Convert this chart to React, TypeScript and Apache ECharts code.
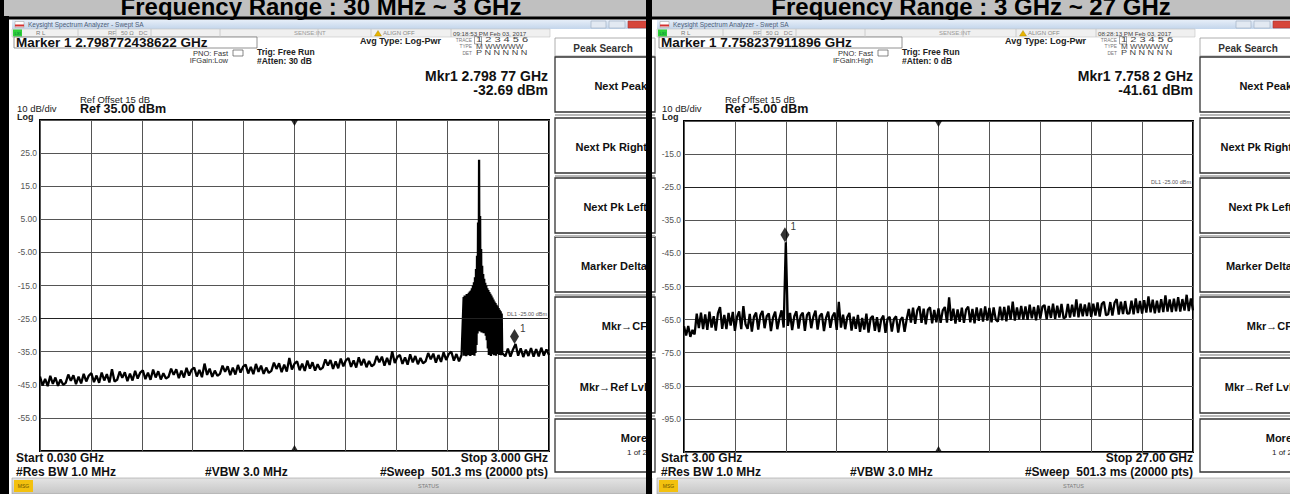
import React, { useEffect, useRef } from "react";
import * as echarts from "echarts";

const FONT = '"Liberation Sans", Arial, Helvetica, sans-serif';

// ---------------- data ----------------
const headerTitles = ["Frequency Range : 30 MHz ~ 3 GHz", "Frequency Range : 3 GHz ~ 27 GHz"];

// Left sweep 0.030 .. 3.000 GHz (dBm). Three sampled stretches.
const leftStartGHz = 0.03;
const leftStopGHz = 3.0;
const leftRefDbm = 35;
// 0.030 .. 2.490 GHz every 15 MHz
const leftLowStartGHz = 0.03;
const leftLowStepGHz = 0.015;
const leftLowLevels = [
  -42.5, -45.2, -43.2, -45.4, -42.3, -44.7, -42.8, -45.3, -43.4, -45.0,
  -44.4, -41.9, -43.8, -42.1, -44.8, -42.5, -44.6, -41.7, -44.0, -42.2,
  -41.5, -44.2, -42.2, -44.4, -41.3, -43.7, -41.8, -44.3, -40.3, -44.0,
  -43.5, -41.0, -42.9, -41.2, -43.9, -41.6, -43.7, -40.8, -43.1, -41.3,
  -40.6, -43.3, -41.3, -43.5, -40.4, -42.8, -40.9, -43.4, -41.5, -43.1,
  -42.6, -40.1, -42.0, -40.3, -43.0, -40.7, -42.8, -39.9, -42.2, -40.4,
  -39.8, -42.5, -40.5, -42.7, -38.6, -42.0, -40.1, -42.6, -40.7, -42.3,
  -41.7, -39.2, -41.1, -39.4, -42.1, -39.8, -41.9, -39.0, -41.3, -39.5,
  -38.9, -41.6, -39.6, -41.8, -38.7, -41.1, -39.2, -41.7, -39.8, -41.4,
  -40.8, -38.3, -40.2, -38.5, -41.2, -38.9, -41.0, -36.9, -40.4, -38.6,
  -37.9, -40.6, -38.6, -40.8, -37.7, -40.1, -38.2, -40.7, -38.8, -40.4,
  -39.8, -37.3, -39.2, -37.5, -40.2, -37.9, -40.0, -37.1, -39.4, -37.6,
  -36.9, -39.6, -37.6, -39.8, -36.7, -39.1, -37.2, -39.7, -37.8, -39.4,
  -38.8, -36.3, -38.2, -36.5, -39.2, -36.9, -39.0, -34.9, -38.4, -36.6,
  -36.0, -38.7, -36.7, -38.9, -35.8, -38.2, -36.3, -38.8, -36.9, -38.5,
  -37.9, -35.4, -37.3, -35.6, -38.3, -36.0, -38.1, -35.2, -37.5, -35.7,
  -35.0, -37.7, -35.7, -37.9, -36.0,
];
// 2.502 .. 2.727 GHz every 3 MHz (the occupied band, alternating peaks / troughs)
const leftBandStartGHz = 2.502;
const leftBandStepGHz = 0.003;
const leftBandLevels = [
  -18.5, -36.2, -18.0, -35.8, -18.2, -36.4, -17.6, -35.9, -17.8, -36.1,
  -17.2, -30.5, -16.8, -36.3, -16.5, -35.7, -15.8, -36.0, -15.0, -35.6,
  -14.0, -36.2, -12.5, -35.4, -10.0, -33.0, -6.0, -29.5, 4.0, -28.8,
  23.0, -28.5, 6.0, -28.9, -4.0, -29.2, -9.0, -28.7, -11.5, -29.4,
  -13.0, -29.0, -14.2, -30.2, -15.0, -31.5, -15.8, -34.0, -16.4, -36.0,
  -17.0, -35.6, -17.5, -36.3, -18.0, -30.0, -18.6, -35.8, -19.2, -36.1,
  -19.8, -35.5, -20.3, -36.2, -20.8, -35.7, -21.3, -31.0, -21.8, -36.0,
  -22.3, -35.6, -22.8, -36.1, -23.5, -35.4,
];
// 2.745 .. 3.000 GHz every 15 MHz
const leftHighStartGHz = 2.745;
const leftHighStepGHz = 0.015;
const leftHighLevels = [
  -36.4, -34.1, -36.5, -34.3, -32.7, -36.2, -34.0, -36.6, -34.4, -36.3,
  -33.9, -36.5, -34.2, -36.4, -33.8, -36.2, -34.3, -36.0,
];
const leftMarker = [2.798772438622, -32.69];
const leftYTickLabels = ["", "-55.0", "-45.0", "-35.0", "-25.0", "-15.0", "-5.00", "5.00", "15.0", "25.0", ""];

// Right sweep: 3.00 GHz .. 27.00 GHz, sampled every 100 MHz (dBm)
const rightStartGHz = 3.0;
const rightStopGHz = 27.0;
const rightStepGHz = 0.1;
const rightRefDbm = -5;
const rightLevels = [
  -67.0, -69.8, -66.9, -70.2, -68.1, -69.5, -63.2, -67.6, -62.9, -67.9,
  -63.4, -68.1, -62.6, -67.4, -64.0, -68.3, -63.1, -61.2, -67.8, -63.6,
  -67.9, -63.0, -66.8, -62.7, -68.4, -64.2, -62.5, -67.9, -60.9, -66.4,
  -67.8, -63.3, -68.6, -64.1, -62.9, -68.0, -63.7, -62.4, -67.6, -64.0,
  -63.1, -68.5, -64.3, -62.6, -67.9, -64.6, -62.2, -67.4, -41.61, -66.9,
  -63.0, -68.2, -64.0, -62.5, -67.7, -63.8, -62.9, -68.4, -63.6, -62.8,
  -67.6, -64.1, -62.3, -68.0, -63.9, -63.2, -68.5, -64.4, -62.6, -67.5,
  -64.0, -62.9, -68.1, -59.6, -67.4, -63.5, -67.9, -64.2, -63.0, -68.3,
  -64.1, -67.8, -63.6, -68.7, -64.5, -68.0, -63.2, -68.9, -64.6, -63.9,
  -68.4, -64.3, -68.8, -64.9, -63.8, -69.0, -64.7, -64.2, -68.6, -64.8,
  -64.0, -68.9, -65.1, -64.3, -68.7, -64.9, -61.8, -65.9, -61.4, -66.3,
  -62.2, -61.0, -66.0, -61.7, -66.4, -62.0, -61.3, -66.1, -62.1, -65.8,
  -61.6, -66.0, -62.2, -61.2, -65.9, -58.3, -65.4, -61.7, -66.2, -61.9,
  -65.7, -61.4, -66.0, -62.0, -61.1, -65.8, -61.8, -66.1, -61.3, -65.4,
  -61.6, -65.6, -61.0, -65.3, -61.5, -65.8, -61.3, -65.0, -65.6, -61.1,
  -65.2, -61.2, -65.5, -60.8, -65.0, -59.6, -65.3, -61.3, -64.9, -60.9,
  -65.0, -61.0, -65.1, -60.5, -64.6, -61.2, -65.2, -60.7, -64.7, -61.1,
  -60.6, -64.9, -60.9, -64.5, -60.2, -64.8, -60.8, -64.4, -60.3, -64.6,
  -64.2, -60.3, -64.4, -60.5, -64.1, -58.9, -64.3, -60.2, -64.0, -60.4,
  -63.9, -59.9, -64.2, -60.2, -63.8, -59.8, -64.1, -60.3, -59.6, -63.7,
  -63.4, -59.7, -63.8, -59.9, -58.8, -63.5, -59.6, -63.3, -59.4, -63.2,
  -63.1, -59.3, -63.4, -58.6, -63.0, -59.4, -63.2, -59.1, -62.9, -58.0,
  -62.8, -59.0, -63.1, -59.3, -62.9, -58.8, -62.7, -57.7, -62.6, -58.9,
  -62.7, -58.7, -62.5, -58.2, -62.6, -58.8, -62.3, -57.5, -62.4, -58.6,
  -62.2,
];
const rightMarker = [7.758237911896, -41.61];
const rightYTickLabels = ["", "-95.0", "-85.0", "-75.0", "-65.0", "-55.0", "-45.0", "-35.0", "-25.0", "-15.0", ""];

const displayLineDbm = -25;
const displayLineLabel = "DL1 -25.00 dBm";

const softkeyLabels = ["Next Peak", "Next Pk Right", "Next Pk Left", "Marker Delta", "Mkr\u2192CF", "Mkr\u2192Ref Lvl"];
const softkeyCenters = [86, 147, 207, 266, 326, 387];

const panelTexts = [
  {
    marker: "Marker 1 2.798772438622 GHz",
    time: "09:18:53 PM Feb 03, 2017",
    ifgain: "IFGain:Low",
    atten: "#Atten: 30 dB",
    mkr: "Mkr1 2.798 77 GHz",
    mkrVal: "-32.69 dBm",
    ref: "Ref 35.00 dBm",
    start: "Start 0.030 GHz",
    stop: "Stop 3.000 GHz",
  },
  {
    marker: "Marker 1 7.758237911896 GHz",
    time: "08:28:13 PM Feb 03, 2017",
    ifgain: "IFGain:High",
    atten: "#Atten: 0 dB",
    mkr: "Mkr1 7.758 2 GHz",
    mkrVal: "-41.61 dBm",
    ref: "Ref -5.00 dBm",
    start: "Start 3.00 GHz",
    stop: "Stop 27.00 GHz",
  },
];

// ---------------- helpers ----------------
type TxtOpt = { color?: string; bold?: boolean; align?: string; z?: number; sx?: number };
function txt(x: number, y: number, text: string, size: number, opt: TxtOpt = {}) {
  return {
    type: "text",
    x,
    y,
    scaleX: opt.sx ?? 1,
    z: opt.z ?? 10,
    silent: true,
    style: {
      text,
      fill: opt.color ?? "#111",
      fontSize: size,
      fontWeight: opt.bold ? "bold" : "normal",
      fontFamily: FONT,
      align: opt.align ?? "left",
      verticalAlign: "middle",
    },
  };
}
function box(x: number, y: number, w: number, h: number, fill: any, stroke?: string | null, lw?: number, z?: number) {
  return {
    type: "rect",
    z: z ?? 5,
    silent: true,
    shape: { x, y, width: w, height: h },
    style: { fill: fill ?? "none", stroke: stroke ?? "none", lineWidth: lw ?? 1 },
  };
}
function seg(x1: number, y1: number, x2: number, y2: number, color: string, lw: number, z?: number) {
  return { type: "line", z: z ?? 6, silent: true, shape: { x1, y1, x2, y2 }, style: { stroke: color, lineWidth: lw } };
}

function panelGraphics(ox: number, p: any) {
  const g: any[] = [];
  const titleGrad = new echarts.graphic.LinearGradient(0, 0, 0, 1, [
    { offset: 0, color: "#e6eef8" },
    { offset: 1, color: "#c3d5eb" },
  ]);
  const statusGrad = new echarts.graphic.LinearGradient(0, 0, 0, 1, [
    { offset: 0, color: "#e4e4e4" },
    { offset: 1, color: "#c6c6c6" },
  ]);
  // title bar
  g.push(box(ox + 12, 20, 640, 9, titleGrad, null, 0, 4));
  g.push(box(ox + 15, 21.5, 9, 6, "#ffffff", "#999", 0.5));
  g.push(box(ox + 15, 24.5, 9, 2, "#d33333"));
  g.push(txt(ox + 28, 24.5, "Keysight Spectrum Analyzer - Swept SA", 6.5, { color: "#4d5d78" }));
  g.push(box(ox + 591, 21, 15, 7, "#e2e9f2", "#9aabbf", 0.6));
  g.push(box(ox + 609, 21, 16, 7, "#e2e9f2", "#9aabbf", 0.6));
  g.push(box(ox + 628, 21, 22, 7, "#d6453b", "#a33", 0.6));
  // status row
  g.push(box(ox + 12, 29, 538, 8, "#f0f0f0", "#c2c2c2", 0.6));
  [78, 116, 151, 220, 318, 371, 451].forEach((x) => g.push(seg(ox + x, 29, ox + x, 37, "#c4c4c4", 0.8)));
  g.push(box(ox + 13, 29.5, 9, 7, "#2fd13a"));
  g.push(txt(ox + 17.5, 33, "LXI", 4, { align: "center", color: "#064" }));
  g.push(txt(ox + 36, 33, "R L", 6, { color: "#777" }));
  g.push(txt(ox + 108, 33, "RF", 6, { color: "#888" }));
  g.push(txt(ox + 121, 33, "50 \u03a9   DC", 6, { color: "#888" }));
  g.push(txt(ox + 294, 33, "SENSE:INT", 6, { color: "#999" }));
  g.push({
    type: "polygon",
    z: 7,
    silent: true,
    shape: { points: [[ox + 378, 30.5], [ox + 374.5, 36], [ox + 381.5, 36]] },
    style: { fill: "#e8b400", stroke: "#a07800", lineWidth: 0.4 },
  });
  g.push(txt(ox + 383, 33, "ALIGN OFF", 6, { color: "#888" }));
  g.push(txt(ox + 453, 33, p.time, 6.2, { color: "#444" }));
  // marker row
  g.push(box(ox + 14, 37, 243, 11, "#ffffff", "#777", 0.8));
  g.push(txt(ox + 16, 42.5, p.marker, 13.5, { bold: true, color: "#111" }));
  g.push(txt(ox + 360, 40.5, "Avg Type: Log-Pwr", 9, { bold: true, color: "#222" }));
  g.push(txt(ox + 472, 40, "TRACE", 4.8, { align: "right", color: "#777" }));
  g.push(txt(ox + 476, 40, "1 2 3 4 5 6", 6.5, { color: "#444", sx: 1.7 }));
  g.push(box(ox + 474.5, 36.5, 7, 7.5, null, "#666", 0.6));
  g.push(txt(ox + 472, 46.5, "TYPE", 4.8, { align: "right", color: "#777" }));
  g.push(txt(ox + 476, 46.5, "M WWWWW", 6.5, { color: "#444", sx: 1.25 }));
  g.push(txt(ox + 472, 53, "DET", 4.8, { align: "right", color: "#777" }));
  g.push(txt(ox + 476, 53, "P N N N N N", 6.5, { color: "#444", sx: 1.4 }));
  g.push(txt(ox + 228, 53, "PNO: Fast", 7.5, { align: "right", color: "#333" }));
  g.push(box(ox + 233, 50, 10, 6, "#ffffff", "#555", 0.7));
  g.push(txt(ox + 228, 60, p.ifgain, 7.5, { align: "right", color: "#333" }));
  g.push(txt(ox + 257, 52, "Trig: Free Run", 8.5, { bold: true, color: "#222" }));
  g.push(txt(ox + 257, 60.5, p.atten, 8.5, { bold: true, color: "#222" }));
  // marker readout & reference
  g.push(txt(ox + 548, 76, p.mkr, 14, { bold: true, align: "right" }));
  g.push(txt(ox + 548, 90, p.mkrVal, 14, { bold: true, align: "right" }));
  g.push(txt(ox + 80, 99, "Ref Offset 15 dB", 9.5, { color: "#222" }));
  g.push(txt(ox + 17, 108.5, "10 dB/div", 9.5, { color: "#222" }));
  g.push(txt(ox + 80, 109, p.ref, 12.5, { bold: true }));
  g.push(txt(ox + 17, 116.5, "Log", 9, { bold: true, color: "#222" }));
  // bottom annotations
  g.push(txt(ox + 16, 458, p.start, 12, { bold: true }));
  g.push(txt(ox + 548, 458, p.stop, 12, { bold: true, align: "right" }));
  g.push(txt(ox + 16, 472, "#Res BW 1.0 MHz", 12, { bold: true }));
  g.push(txt(ox + 205, 472, "#VBW 3.0 MHz", 12, { bold: true }));
  g.push(txt(ox + 548, 472, "#Sweep  501.3 ms (20000 pts)", 12, { bold: true, align: "right" }));
  // softkeys
  g.push(box(ox + 555, 38, 100, 18, "#ffffff", "#999", 0.8));
  g.push(txt(ox + 603, 48, "Peak Search", 10, { bold: true, align: "center", color: "#333" }));
  softkeyLabels.forEach((lab, i) => {
    const c = softkeyCenters[i];
    g.push(box(ox + 555, c - 29, 100, 55, "#ffffff", "#333", 1.3));
    g.push(seg(ox + 555, c + 29, ox + 655, c + 29, "#b8b8b8", 2));
    g.push(txt(ox + 647, c, lab, 11, { bold: true, align: "right" }));
  });
  g.push(box(ox + 555, 419, 100, 53, "#ffffff", "#333", 1.3));
  g.push(txt(ox + 647, 438, "More", 11, { bold: true, align: "right" }));
  g.push(txt(ox + 647, 452, "1 of 2", 8, { align: "right", color: "#222" }));
  // status bar
  g.push(box(ox + 12, 478, 640, 16, statusGrad, "#9a9a9a", 0.6));
  g.push(box(ox + 14, 480, 19, 12, "#f3c10e"));
  g.push(txt(ox + 23.5, 486, "MSG", 5, { align: "center", color: "#6b5200" }));
  g.push(txt(ox + 418, 486, "STATUS", 5.5, { color: "#7a7a7a" }));
  return g;
}

function sweep(start: number, step: number, levels: number[]) {
  return levels.map((v, i) => [Number((start + i * step).toFixed(4)), v]);
}

function divAxisX(gridIndex: number) {
  return {
    type: "value",
    gridIndex,
    min: 0,
    max: 10,
    interval: 1,
    axisLine: { show: false },
    axisTick: { show: false },
    axisLabel: { show: false },
    splitLine: { show: true, lineStyle: { color: "#555", width: 1 } },
  };
}
function divAxisY(gridIndex: number, labels: string[]) {
  return {
    type: "value",
    gridIndex,
    position: "left",
    min: 0,
    max: 10,
    interval: 1,
    axisLine: { show: false },
    axisTick: { show: false },
    axisLabel: {
      show: true,
      margin: 3,
      fontSize: 8.5,
      color: "#555",
      fontFamily: FONT,
      formatter: (v: number) => labels[Math.round(v)] ?? "",
    },
    splitLine: { show: true, lineStyle: { color: "#555", width: 1 } },
  };
}

function traceSeries(xi: number, yi: number, data: any[], width: number) {
  return {
    type: "line",
    xAxisIndex: xi,
    yAxisIndex: yi,
    data,
    showSymbol: false,
    symbol: "none",
    z: 3,
    lineStyle: { color: "#000", width, join: "bevel" },
    markLine: {
      silent: true,
      symbol: ["none", "none"],
      data: [{ yAxis: displayLineDbm }],
      lineStyle: { color: "#222", width: 1, type: "solid" },
      label: {
        show: true,
        formatter: displayLineLabel,
        position: "insideEndTop",
        distance: 2,
        fontSize: 5.5,
        color: "#555",
        fontFamily: FONT,
      },
    },
  };
}
function markerSeries(xi: number, yi: number, pt: number[]) {
  return {
    type: "scatter",
    xAxisIndex: xi,
    yAxisIndex: yi,
    data: [pt],
    symbol: "diamond",
    symbolSize: [9, 15],
    symbolOffset: [0, -7.5],
    z: 6,
    clip: false,
    itemStyle: { color: "#000" },
    label: {
      show: true,
      formatter: "1",
      position: "right",
      distance: 1,
      offset: [0, -8],
      fontSize: 10,
      color: "#000",
      fontFamily: FONT,
    },
  };
}
function centerTicks(xi: number, yi: number) {
  return [
    {
      type: "scatter",
      xAxisIndex: xi,
      yAxisIndex: yi,
      data: [[5, 10]],
      symbol: "triangle",
      symbolRotate: 180,
      symbolSize: [7, 6],
      symbolOffset: [0, 3],
      clip: false,
      z: 6,
      itemStyle: { color: "#000" },
    },
    {
      type: "scatter",
      xAxisIndex: xi,
      yAxisIndex: yi,
      data: [[5, 0]],
      symbol: "triangle",
      symbolSize: [7, 6],
      symbolOffset: [0, -3],
      clip: false,
      z: 6,
      itemStyle: { color: "#000" },
    },
  ];
}

export default function App() {
  const ref = useRef<HTMLDivElement>(null);
  useEffect(() => {
    document.body.style.margin = "0";
    if (!ref.current) return;
    const chart = echarts.init(ref.current, null, { renderer: "svg", width: 1290, height: 494 });

    const globals: any[] = [
      box(0, 0, 1290, 17, "#c0c0c0", null, 0, 1),
      txt(321, 6.5, headerTitles[0], 24, { bold: true, align: "center", color: "#000", z: 2 }),
      txt(971, 6.5, headerTitles[1], 24, { bold: true, align: "center", color: "#000", z: 2 }),
      box(0, 16.5, 1290, 3, "#000", null, 0, 50),
      box(0, 0, 4, 494, "#000", null, 0, 50),
      box(0, 16, 9, 478, "#000", null, 0, 50),
      box(646, 0, 6, 494, "#000", null, 0, 50),
    ];

    const leftData = [
      ...sweep(leftLowStartGHz, leftLowStepGHz, leftLowLevels),
      ...sweep(leftBandStartGHz, leftBandStepGHz, leftBandLevels),
      ...sweep(leftHighStartGHz, leftHighStepGHz, leftHighLevels),
    ];

    const option: any = {
      animation: false,
      backgroundColor: "#ffffff",
      grid: [
        { left: 40, top: 120, width: 509, height: 331, show: true, borderColor: "#000", borderWidth: 2, backgroundColor: "transparent" },
        { left: 684, top: 121, width: 509, height: 331, show: true, borderColor: "#000", borderWidth: 2, backgroundColor: "transparent" },
      ],
      xAxis: [
        { type: "value", gridIndex: 0, min: leftStartGHz, max: leftStopGHz, show: false },
        divAxisX(0),
        { type: "value", gridIndex: 1, min: rightStartGHz, max: rightStopGHz, show: false },
        divAxisX(1),
      ],
      yAxis: [
        { type: "value", gridIndex: 0, min: leftRefDbm - 100, max: leftRefDbm, show: false },
        divAxisY(0, leftYTickLabels),
        { type: "value", gridIndex: 1, min: rightRefDbm - 100, max: rightRefDbm, show: false },
        divAxisY(1, rightYTickLabels),
      ],
      series: [
        traceSeries(0, 0, leftData, 2.3),
        markerSeries(0, 0, leftMarker),
        ...centerTicks(1, 1),
        traceSeries(2, 2, sweep(rightStartGHz, rightStepGHz, rightLevels), 2.3),
        markerSeries(2, 2, rightMarker),
        ...centerTicks(3, 3),
      ],
      graphic: [...globals, ...panelGraphics(0, panelTexts[0]), ...panelGraphics(645, panelTexts[1])],
    };
    chart.setOption(option);
    return () => chart.dispose();
  }, []);
  return (
    <div
      ref={ref}
      style={{ position: "fixed", left: 0, top: 0, width: 1290, height: 494, background: "#fff" }}
    />
  );
}
